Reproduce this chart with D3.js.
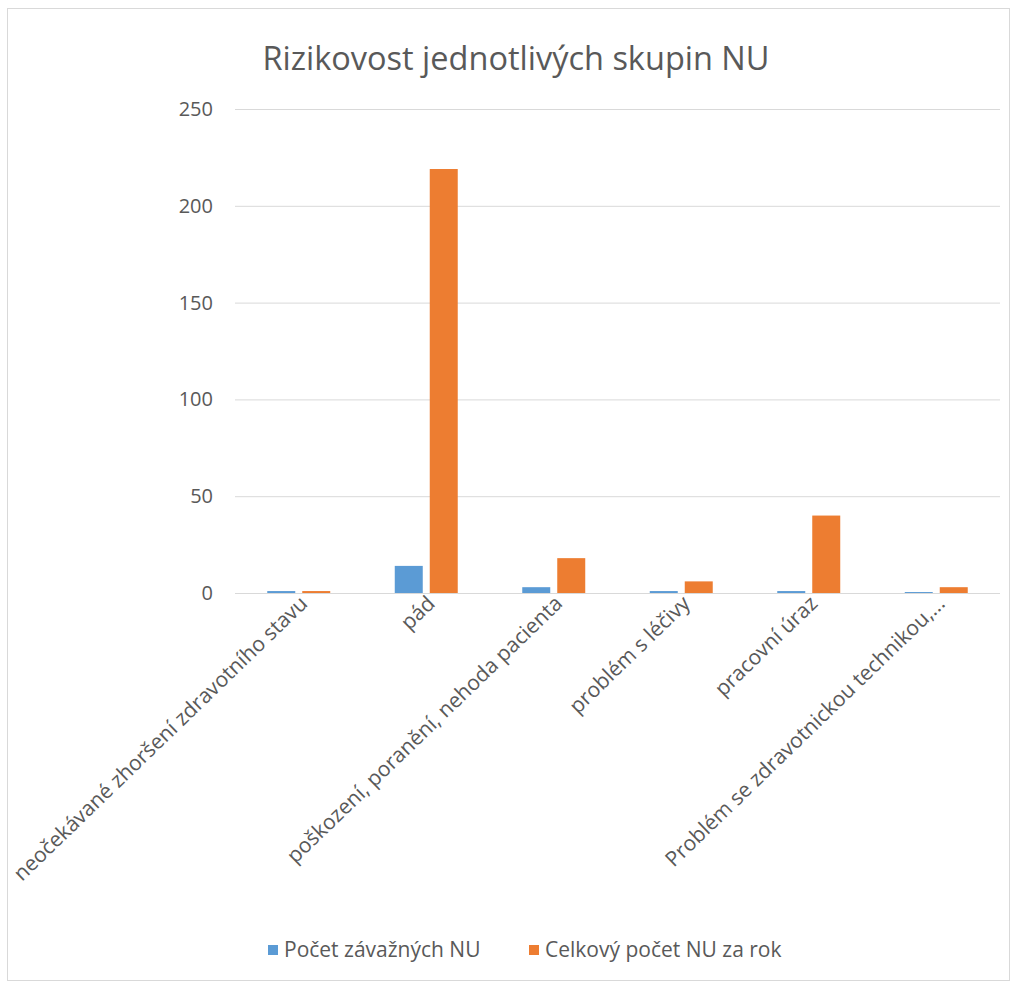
<!DOCTYPE html>
<html>
<head>
<meta charset="utf-8">
<script src="https://cdn.jsdelivr.net/npm/d3@7"></script>
<style>
  body { margin: 0; background: #fff; }
  text { font-family: "Open Sans", sans-serif; fill: #595959; }
</style>
</head>
<body>
<div id="viz"></div>
<script>
const categories = [
  'neočekávané zhoršení zdravotního stavu',
  'pád',
  'poškození, poranění, nehoda pacienta',
  'problém s léčivy',
  'pracovní úraz',
  'Problém se zdravotnickou technikou,...'
];
const seriesNames = ['Počet závažných NU', 'Celkový počet NU za rok'];
const serious = [1, 14, 3, 1, 1, 0.5];
const total = [1, 219, 18, 6, 40, 3];
const yTicks = [0, 50, 100, 150, 200, 250];
const colors = ['#5b9bd5', '#ed7d31'];

const width = 1012, height = 983;
const plotLeft = 235, plotRight = 1000, plotTop = 109, plotBottom = 593;

const svg = d3.select('#viz').append('svg')
  .attr('width', width)
  .attr('height', height);

// frame
svg.append('rect')
  .attr('x', 7.5).attr('y', 8.5)
  .attr('width', 1002).attr('height', 972)
  .attr('fill', 'none')
  .attr('stroke', '#d9d9d9');

// title
svg.append('text')
  .attr('x', 516).attr('y', 70)
  .attr('text-anchor', 'middle')
  .attr('font-size', 32.5)
  .text('Rizikovost jednotlivých skupin NU');

const y = d3.scaleLinear().domain([0, 250]).range([plotBottom, plotTop]);
const x = d3.scaleBand().domain(categories).range([plotLeft, plotRight])
  .paddingInner(0.506).paddingOuter(0.253);
const xs = d3.scaleBand().domain([0, 1]).range([0, x.bandwidth()]).paddingInner(0.2);

// gridlines
svg.append('g').selectAll('line')
  .data(yTicks)
  .join('line')
  .attr('x1', plotLeft).attr('x2', plotRight)
  .attr('y1', d => y(d) + 0.5).attr('y2', d => y(d) + 0.5)
  .attr('stroke', '#d9d9d9');

// y labels
svg.append('g').selectAll('text')
  .data(yTicks)
  .join('text')
  .attr('x', 213)
  .attr('y', d => y(d))
  .attr('dy', '0.35em')
  .attr('text-anchor', 'end')
  .attr('font-size', 20)
  .text(d => d);

// bars
[serious, total].forEach((vals, si) => {
  svg.append('g').selectAll('rect')
    .data(vals)
    .join('rect')
    .attr('x', (d, i) => x(categories[i]) + xs(si))
    .attr('y', d => y(d))
    .attr('width', xs.bandwidth())
    .attr('height', d => plotBottom - y(d))
    .attr('fill', colors[si]);
});

// x labels
svg.append('g').selectAll('text')
  .data(categories)
  .join('text')
  .attr('transform', d => `translate(${x(d) + x.bandwidth() / 2 + 10},${plotBottom + 12}) rotate(-44)`)
  .attr('text-anchor', 'end')
  .attr('font-size', 21)
  .text(d => d);

// legend
const legend = svg.append('g');
const legendX = [268, 529];
seriesNames.forEach((name, i) => {
  legend.append('rect')
    .attr('x', legendX[i]).attr('y', 945)
    .attr('width', 10).attr('height', 10)
    .attr('fill', colors[i]);
  legend.append('text')
    .attr('x', legendX[i] + 16).attr('y', 950)
    .attr('dy', '0.35em')
    .attr('font-size', 21)
    .text(name);
});
</script>
</body>
</html>
